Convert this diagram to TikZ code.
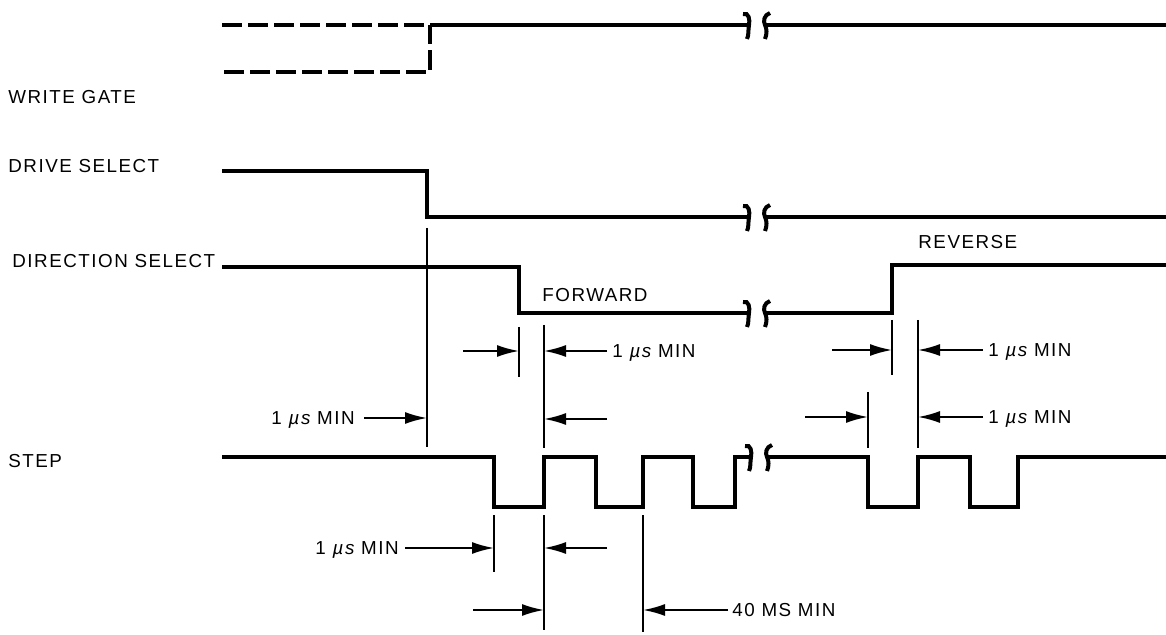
\documentclass[tikz,border=0pt]{standalone}
\usepackage{fontspec}
\newfontfamily\lblfont[LetterSpace=8]{Liberation Sans}
\usetikzlibrary{arrows.meta,positioning}

\begin{document}
\begin{tikzpicture}[x=0.5pt,y=-0.5pt,
  sig/.style={line width=2pt},
  dim/.style={line width=1pt},
  arr/.style={dim,-{Latex[length=11pt,width=6pt]}},
  lbl/.style={font=\lblfont\fontsize{9.4}{11}\selectfont,inner sep=0pt,
    text height=6.7pt,text depth=0pt,anchor=west},
  brk/.pic={
    \draw[line width=2pt] (-14,-11) .. controls (-8,-13) and (-7,-5) .. (-8,0)
      .. controls (-9,5) and (-8,10) .. (-10,14);
    \draw[line width=2pt] (13,-12) .. controls (7,-10) and (6,-4) .. (8,0)
      .. controls (10,4) and (10,9) .. (8,14);}]
\useasboundingbox (0,0) rectangle (1166,635);

\node[lbl] (wg)  at (8,97)   {WRITE GATE};
\node[lbl] (ds)  at (8,166)  {DRIVE SELECT};
\node[lbl] (dir) at (12,261) {DIRECTION SELECT};
\node[lbl] (st)  at (8,461)  {STEP};
\node[lbl] (fw)  at (542,295) {FORWARD};
\node[lbl] (rv)  at (918,242) {REVERSE};

\draw[sig,dash pattern=on 10pt off 3pt] (222,25) -- (430,25) (224,72) -- (430,72) -- (430,25);
\draw[sig] (430,25) -- (749,25) (765,25) -- (1166,25);
\pic at (757,25) {brk};

\draw[sig] (222,171) -- (427,171) -- (427,217) -- (749,217) (765,217) -- (1166,217);
\pic at (757,217) {brk};

\draw[sig] (222,267) -- (519,267) -- (519,313) -- (749,313) (765,313) -- (892,313)
  -- (892,265) -- (1166,265);
\pic at (757,313) {brk};

\draw[sig] (222,457) -- (494,457) -- (494,507) -- (544,507) -- (544,457) -- (596,457)
  -- (596,507) -- (643,507) -- (643,457) -- (693,457) -- (693,507) -- (735,507)
  -- (735,457) -- (751,457) (767,457) -- (868,457) -- (868,507) -- (918,507)
  -- (918,457) -- (970,457) -- (970,507) -- (1018,507) -- (1018,457) -- (1166,457);
\pic at (759,457) {brk};

\draw[dim] (427,228) coordinate (a1) -- (427,447);
\draw[dim] (519,327) coordinate (b1) -- (519,377);
\draw[dim] (544,325) coordinate (b2) -- (544,448);
\draw[dim] (892,320) coordinate (c1) -- (892,375);
\draw[dim] (918,320) coordinate (c2) -- (918,448);
\draw[dim] (868,392) coordinate (c3) -- (868,448);
\draw[dim] (494,515) coordinate (d1) -- (494,572);
\draw[dim] (544,515) coordinate (d2) -- (544,630);
\draw[dim] (643,515) coordinate (d3) -- (643,632);

\node[lbl,anchor=east] (m1) at (355,418) {1 {\itshape µs} MIN};
\draw[arr] ([xshift=4.5pt]m1.east) -- (m1.east -| a1);
\node[lbl] (m2) at (612,351) {1 {\itshape µs} MIN};
\draw[arr] ([xshift=-2.5pt]m2.west) -- (m2.west -| b2);
\coordinate (p2) at (463,351);
\draw[arr] (p2) -- (p2 -| b1);
\coordinate (p3) at (607,419);
\draw[arr] (p3) -- (p3 -| b2);

\node[lbl] (m3) at (988,350) {1 {\itshape µs} MIN};
\draw[arr] ([xshift=-2.5pt]m3.west) -- (m3.west -| c2);
\coordinate (p4) at (832,350);
\draw[arr] (p4) -- (p4 -| c1);
\node[lbl] (m4) at (988,417) {1 {\itshape µs} MIN};
\draw[arr] ([xshift=-2.5pt]m4.west) -- (m4.west -| c2);
\coordinate (p5) at (805,417);
\draw[arr] (p5) -- (p5 -| c3);

\node[lbl,anchor=east] (m5) at (399,548) {1 {\itshape µs} MIN};
\draw[arr] ([xshift=3pt]m5.east) -- (m5.east -| d1);
\coordinate (p6) at (607,548);
\draw[arr] (p6) -- (p6 -| d2);
\coordinate (p7) at (473,610);
\draw[arr] (p7) -- (p7 -| d2);
\node[lbl] (m6) at (732,610) {40 MS MIN};
\draw[arr] ([xshift=-2pt]m6.west) -- (m6.west -| d3);
\end{tikzpicture}
\end{document}
